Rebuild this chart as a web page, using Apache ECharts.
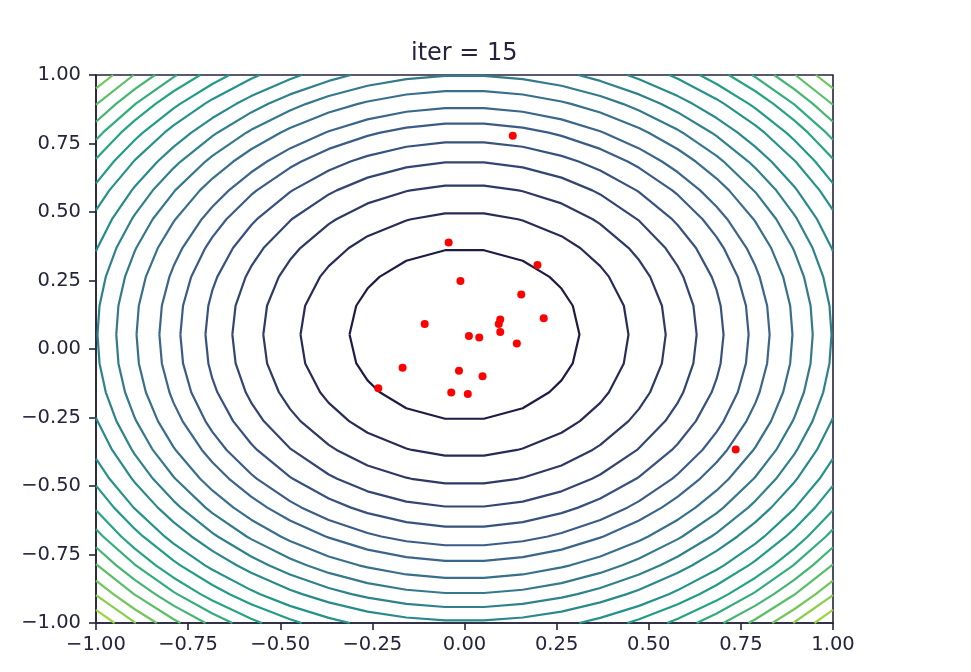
<!DOCTYPE html>
<html><head><meta charset="utf-8">
<script src="https://cdn.jsdelivr.net/npm/echarts@6/dist/echarts.min.js"></script>
<style>html,body{margin:0;padding:0;background:#fff}#c{width:971px;height:672px}</style>
</head><body><div id="c"></div>
<script>
const titleText = 'iter = 15';
// contour levels of the objective, and the radius of each level
const contourLevels = [0.1,0.2,0.3,0.4,0.5,0.6,0.7,0.8,0.9,1.0,1.1,1.2,1.3,1.4,1.5,1.6,1.7,1.8,1.9,2.0];
const contourRadii  = [0.312,0.445,0.546,0.630,0.703,0.771,0.828,0.890,0.945,0.996,1.045,1.098,1.142,1.188,1.227,1.266,1.305,1.344,1.380,1.418];
const contourColors = ['#1e1b44','#272b56','#2e3964','#334671','#37527e','#3a5c87','#3b668b','#38708c','#34798c','#2f828c',
                       '#2a8a8b','#25938a','#229c87','#27a482','#32ad7b','#44b672','#5abf66','#71c759','#88cf4c','#9dd540'];
const contourCenter = [0.0, 0.053];
// particle positions
const particleX = [-0.043,0.198,-0.011,0.154,0.215,0.097,-0.108,0.093,0.097,0.012,0.040,0.142,-0.168,-0.015,0.049,-0.234,-0.036,0.009,0.131,0.736];
const particleY = [0.389,0.307,0.248,0.199,0.112,0.108,0.091,0.091,0.062,0.047,0.042,0.020,-0.068,-0.079,-0.099,-0.143,-0.159,-0.164,0.778,-0.367];
const axisMin = -1, axisMax = 1, tickStep = 0.25;

// mesh used by the contouring (polygon vertices fall on mesh lines)
const MESH_N = 20;
const mesh = [];
for (let i = 0; i < MESH_N; i++) mesh.push(axisMin + (axisMax - axisMin) * i / (MESH_N - 1));

function contourRuns(r) {
  const cx = contourCenter[0], cy = contourCenter[1];
  let v = [];
  mesh.forEach(g => {
    let d = r * r - (g - cx) * (g - cx);
    if (d >= 0) { const s = Math.sqrt(d); v.push([g, cy + s]); if (s > 1e-9) v.push([g, cy - s]); }
    d = r * r - (g - cy) * (g - cy);
    if (d >= 0) { const s = Math.sqrt(d); v.push([cx + s, g]); if (s > 1e-9) v.push([cx - s, g]); }
  });
  v.forEach(p => p.a = Math.atan2(p[1] - cy, p[0] - cx));
  v.sort((a, b) => a.a - b.a);
  const inside = p => Math.abs(p[0]) <= 1 + 1e-9 && Math.abs(p[1]) <= 1 + 1e-9;
  if (v.every(inside)) { const loop = v.map(p => [p[0], p[1]]); loop.push(loop[0]); return [loop]; }
  const k = v.findIndex(p => !inside(p));
  v = v.slice(k).concat(v.slice(0, k));
  const runs = []; let cur = [];
  v.forEach(p => {
    if (inside(p)) cur.push([p[0], p[1]]);
    else { if (cur.length > 1) runs.push(cur); cur = []; }
  });
  if (cur.length > 1) runs.push(cur);
  return runs;
}

const series = [];
contourLevels.forEach((lv, i) => {
  contourRuns(contourRadii[i]).forEach(run => {
    series.push({
      type: 'line', data: run, symbol: 'none', showSymbol: false, smooth: false, clip: true,
      silent: true, animation: false, z: 2,
      lineStyle: { color: contourColors[i], width: 2.2, join: 'round' }
    });
  });
});
series.push({
  type: 'scatter', data: particleX.map((x, i) => [x, particleY[i]]),
  symbol: 'circle', symbolSize: 8, itemStyle: { color: '#ff0000', opacity: 1 }, z: 5, animation: false
});

const ink = '#24243c';
const fmt = v => (v < 0 ? '\u2212' : '') + Math.abs(v).toFixed(2);
const axisCommon = {
  type: 'value', min: axisMin, max: axisMax, interval: tickStep,
  splitLine: { show: false },
  axisLine: { show: true, onZero: false, lineStyle: { color: ink, width: 1.6 } },
  axisTick: { show: true, inside: false, length: 7, lineStyle: { color: ink, width: 1.6 } },
  axisLabel: { formatter: fmt, color: ink, fontFamily: 'DejaVu Sans', fontSize: 19.5 }
};

const chart = echarts.init(document.getElementById('c'), null, { renderer: 'canvas' });
chart.setOption({
  backgroundColor: '#ffffff',
  animation: false,
  title: { text: titleText, left: 406, top: 37,
           textStyle: { fontFamily: 'DejaVu Sans', fontSize: 24, fontWeight: 'normal', color: ink } },
  grid: { left: 96, right: 138, top: 75, bottom: 49, show: true, borderColor: ink, borderWidth: 1.6 },
  xAxis: Object.assign({}, axisCommon, { axisLabel: Object.assign({}, axisCommon.axisLabel, { margin: 12 }) }),
  yAxis: Object.assign({}, axisCommon, { axisLabel: Object.assign({}, axisCommon.axisLabel, { margin: 15 }) }),
  series: series
});
</script></body></html>
